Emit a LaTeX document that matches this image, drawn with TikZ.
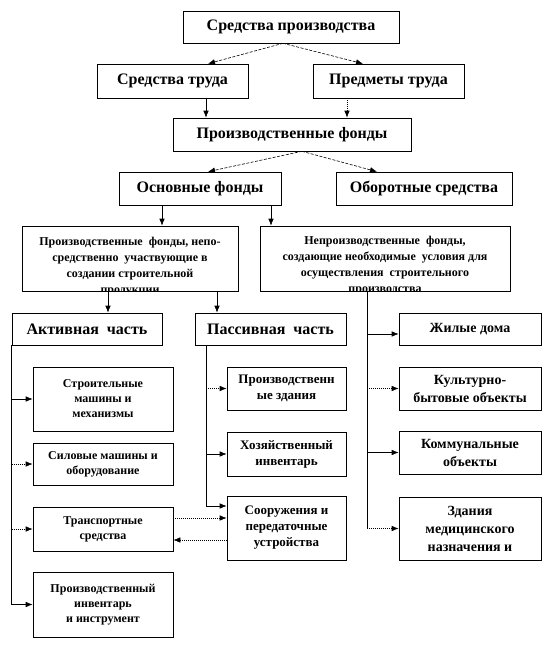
\documentclass[tikz,border=0pt]{standalone}
\usepackage{fontspec}
\setmainfont{Liberation Serif}
\usetikzlibrary{arrows.meta,calc,shadows}
\tikzset{
  box/.style={draw=black, line width=0.6pt, fill=white, align=center, inner sep=1pt,
    drop shadow={shadow xshift=1.2pt, shadow yshift=-1.2pt, fill=black!55, opacity=1}},
  big/.style={box, font=\fontsize{16}{19}\selectfont\bfseries},
  smallL/.style={box, font=\fontsize{12}{15}\selectfont\bfseries},
  smallM/.style={box, font=\fontsize{13}{16}\selectfont\bfseries},
  smallR/.style={box, font=\fontsize{14}{18}\selectfont\bfseries},
  inner/.style={align=center, inner sep=0pt, font=\fontsize{12}{16}\selectfont\bfseries},
  arr/.style={-{Latex[length=7pt,width=5.5pt]}, line width=0.6pt},
  ln/.style={line width=0.6pt},
  dsh/.style={dash pattern=on 3pt off 1.5pt},
  dtt/.style={dash pattern=on 1pt off 1pt},
}
\begin{document}
\begin{tikzpicture}[x=1pt,y=-1pt]
\useasboundingbox (0,0) rectangle (551,659);
% top tiers
\node[big, minimum width=216pt, minimum height=32pt] (sp) at (291,27) {Средства производства};
\node[big, minimum width=151pt, minimum height=34pt] (st) at (172.5,81) {Средства труда};
\node[big, minimum width=151pt, minimum height=34pt] (pt) at (388.5,81) {Предметы труда};
\node[big, minimum width=238pt, minimum height=33pt] (pf) at (292,134.5) {Производственные фонды};
\node[big, minimum width=162pt, minimum height=33pt] (of) at (200,188.5) {Основные фонды};
\node[big, minimum width=176pt, minimum height=33pt] (ob) at (424,188.5) {Оборотные средства};
% big boxes
\node[box, minimum width=216pt, minimum height=65pt] (lb) at (130,258.5) {};
\begin{scope}
\clip (lb.north west) rectangle (lb.south east);
\node[inner, anchor=north] (lbt) at (130,237) {Производственные\ \ фонды, непо-\\средственно\ \ участвующие в\\создании строительной\\продукции};
\end{scope}
\node[box, minimum width=250pt, minimum height=65pt] (rb) at (385,258.5) {};
\begin{scope}
\clip (rb.north west) rectangle (rb.south east);
\node[inner, anchor=north] (rbt) at (385,236) {Непроизводственные\ \ фонды,\\создающие необходимые\ \ условия для\\осуществления\ \ строительного\\производства};
\end{scope}
% parts
\node[big, minimum width=150pt, minimum height=32pt] (ak) at (87,329) {Активная\ \ часть};
\node[big, minimum width=151pt, minimum height=32pt] (pa) at (270.5,329) {Пассивная\ \ часть};
\node[smallR, minimum width=142pt, minimum height=32pt] (zd) at (470,329) {Жилые дома};
% left column
\node[smallL, minimum width=140pt, minimum height=64pt] (sm) at (103,399) {Строительные\\машины и\\механизмы};
\node[smallL, minimum width=140pt, minimum height=42pt] (si) at (103,464) {Силовые машины и\\оборудование};
\node[smallL, minimum width=140pt, minimum height=44pt] (tr) at (103,529) {Транспортные\\средства};
\node[smallL, minimum width=140pt, minimum height=65pt] (pi) at (103,604.5) {Производственный\\инвентарь\\и инструмент};
% middle column
\node[smallM, minimum width=119pt, minimum height=43pt] (pz) at (286.5,388.5) {Производственн\\ые здания};
\node[smallM, minimum width=119pt, minimum height=44pt] (hi) at (286.5,454) {Хозяйственный\\инвентарь};
\node[smallM, minimum width=119pt, minimum height=64pt] (so) at (286.5,528) {Сооружения и\\передаточные\\устройства};
% right column
\node[smallR, minimum width=142pt, minimum height=43pt] (kb) at (470,388.5) {Культурно-\\бытовые объекты};
\node[smallR, minimum width=142pt, minimum height=43pt] (ko) at (470,452.5) {Коммунальные\\объекты};
\node[smallR, minimum width=142pt, minimum height=63pt] (zm) at (470,528.5) {Здания\\медицинского\\назначения и};

% connectors top
\draw[arr,dsh] ([xshift=-8pt]sp.south) -- ([xshift=35.5pt]st.north);
\draw[arr,dsh] ([xshift=-8pt]sp.south) -- ([xshift=-25.5pt]pt.north);
\draw[arr] (st.south -| 206,0) -- (pf.north -| 206,0);
\draw[arr,dtt] (pt.south -| 347,0) -- (pf.north -| 347,0);
\draw[arr,dsh] ([xshift=10pt]pf.south) -- ([xshift=8pt]of.north);
\draw[arr,dsh] ([xshift=10pt]pf.south) -- ([xshift=-47pt]ob.north);
\draw[arr] (of.south -| 162,0) -- (lb.north -| 162,0);
\draw[arr] (of.south -| 271,0) -- (rb.north -| 271,0);
\draw[arr] (lb.south -| 108,0) -- (ak.north -| 108,0);
\draw[arr] (lb.south -| 217,0) -- (pa.north -| 217,0);

% right trunk
\coordinate (rtop) at (rb.south -| 367,0);
\coordinate (rbot) at (zm.west -| 367,0);
\coordinate (zdin) at ($(zd.west)+(0,5)$);
\draw[ln] (rtop) -- (rbot);
\draw[arr] (zdin -| rtop) -- (zdin);
\draw[arr,dtt] (kb.west -| rtop) -- (kb.west);
\draw[arr] (ko.west -| rtop) -- (ko.west);
\draw[arr,dtt] (rbot) -- (zm.west);

% left trunk
\coordinate (ltop) at (ak.south west);
\coordinate (lbot) at (ak.south west |- pi.west);
\draw[ln] (ltop) -- (lbot);
\draw[arr] (ltop |- sm.west) -- (sm.west);
\draw[arr,dtt] (ltop |- si.west) -- (si.west);
\draw[arr,dtt] (ltop |- tr.west) -- (tr.west);
\draw[arr] (lbot) -- (pi.west);

% middle trunk
\coordinate (mtop) at (pa.south -| 206,0);
\coordinate (soin) at ($(so.west)+(0,-22)$);
\draw[ln] (mtop) -- (mtop |- soin);
\draw[arr,dtt] (mtop |- pz.west) -- (pz.west);
\draw[arr] (mtop |- hi.west) -- (hi.west);
\draw[arr] (mtop |- soin) -- (soin);

% transport <-> structures
\coordinate (tro) at ($(tr.east)+(0,-11)$);
\coordinate (sro) at ($(so.west)+(0,12)$);
\draw[arr,dtt] (tro) -- (tro -| so.west);
\draw[arr,dtt] (sro) -- (sro -| tr.east);
\end{tikzpicture}
\end{document}
